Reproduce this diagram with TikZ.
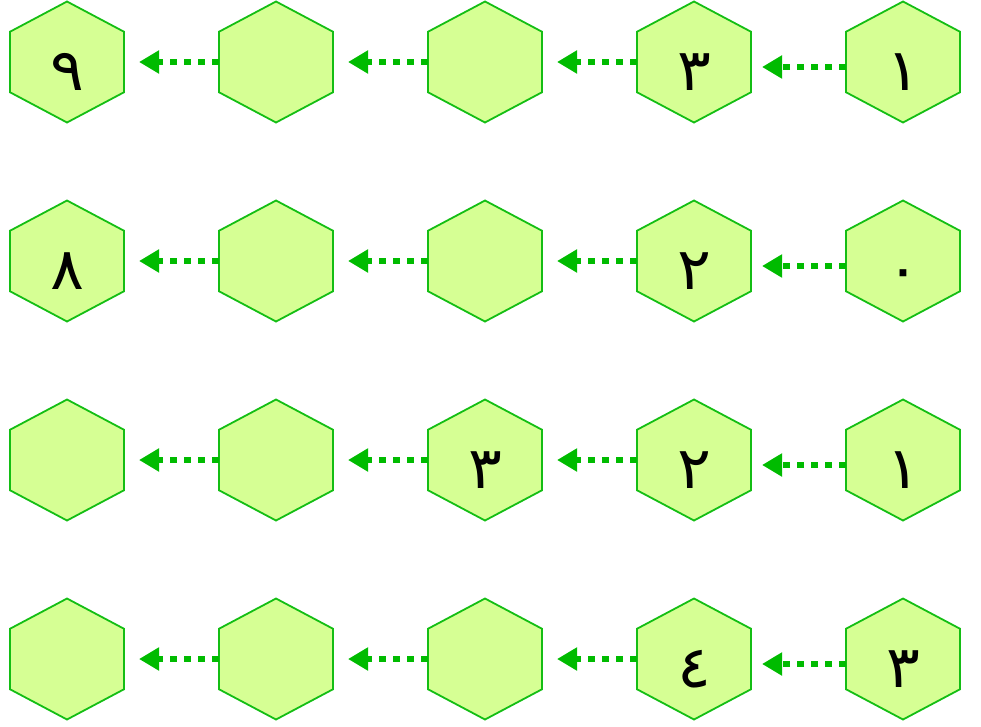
\documentclass[tikz,border=0pt]{standalone}
\usepackage{fontspec}
\newfontfamily\arabicdigits[Script=Arabic]{DejaVu Sans}
\usetikzlibrary{shapes.geometric,arrows.meta}
\definecolor{hexfill}{RGB}{214,255,148}
\definecolor{hexline}{RGB}{20,190,20}
\definecolor{flowgreen}{RGB}{0,187,0}

\begin{document}
\begin{tikzpicture}[x=1pt, y=-1pt,
  hexcell/.style={regular polygon, regular polygon sides=6, shape border rotate=30,
    minimum size=121pt, inner sep=0pt, outer sep=0pt, xscale=1.088, transform shape,
    draw=hexline, fill=hexfill, line width=1.8pt,
    font=\arabicdigits\fontsize{58}{58}\selectfont, text height=56pt, text depth=0pt},
  flow/.style={flowgreen, line width=6.5pt, dash pattern=on 7pt off 7pt,
    -{Triangle[length=20pt,width=22pt]}}]

  \useasboundingbox (0,0) rectangle (981,726);

  % row 1
  \node[hexcell] (h11) at (67,62)  {٩};
  \node[hexcell] (h12) at (276,62) {};
  \node[hexcell] (h13) at (485,62) {};
  \node[hexcell] (h14) at (694,62) {٣};
  \node[hexcell] (h15) at (903,62) {١};

  % row 2
  \node[hexcell] (h21) at (67,261)  {٨};
  \node[hexcell] (h22) at (276,261) {};
  \node[hexcell] (h23) at (485,261) {};
  \node[hexcell] (h24) at (694,261) {٢};
  \node[hexcell] (h25) at (903,261) {٠};

  % row 3
  \node[hexcell] (h31) at (67,460)  {};
  \node[hexcell] (h32) at (276,460) {};
  \node[hexcell] (h33) at (485,460) {٣};
  \node[hexcell] (h34) at (694,460) {٢};
  \node[hexcell] (h35) at (903,460) {١};

  % row 4
  \node[hexcell] (h41) at (67,659)  {};
  \node[hexcell] (h42) at (276,659) {};
  \node[hexcell] (h43) at (485,659) {};
  \node[hexcell] (h44) at (694,659) {٤};
  \node[hexcell] (h45) at (903,659) {٣};

  % dotted arrows, right to left
  \foreach \r in {1,...,4} {
    \draw[flow, shorten >=11pt] ([yshift=-5pt]h\r5.west) -- ([yshift=-5pt]h\r4.east);
    \foreach \c [evaluate=\c as \p using int(\c-1)] in {2,3,4}
      \draw[flow, shorten >=15pt] (h\r\c.west) -- (h\r\p.east);
  }
\end{tikzpicture}
\end{document}
